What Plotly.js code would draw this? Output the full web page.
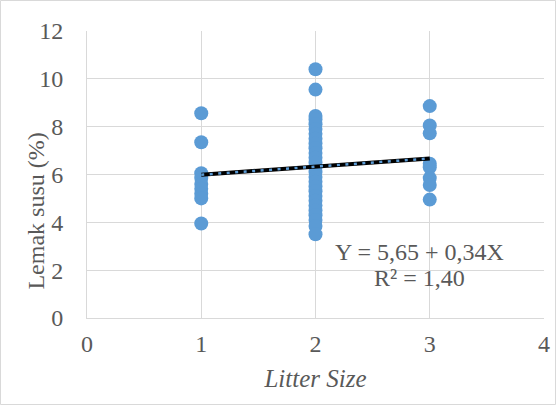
<!DOCTYPE html>
<html>
<head>
<meta charset="utf-8">
<script src="https://cdn.plot.ly/plotly-3.0.1.min.js"></script>
<style>html,body{margin:0;padding:0;background:#fff;}#chart{width:556px;height:406px;}</style>
</head>
<body>
<div id="chart"></div>
<script>
// Litter size 1
const ls1X = [1, 1, 1, 1, 1, 1, 1, 1, 1];
const ls1Y = [8.56, 7.35, 6.05, 5.85, 5.6, 5.4, 5.2, 5.0, 3.95];
// Litter size 2
const ls2X = [2, 2, 2, 2, 2, 2, 2, 2, 2, 2, 2, 2, 2, 2, 2, 2, 2, 2, 2, 2, 2, 2, 2, 2, 2, 2, 2];
const ls2Y = [10.4, 9.55, 8.45, 8.3, 8.1, 7.9, 7.7, 7.5, 7.3, 7.1, 6.9, 6.7, 6.5, 6.3, 6.1, 5.9, 5.7, 5.5, 5.3, 5.1, 4.9, 4.7, 4.5, 4.3, 4.1, 3.85, 3.5];
// Litter size 3
const ls3X = [3, 3, 3, 3, 3, 3, 3, 3];
const ls3Y = [8.86, 8.05, 7.72, 6.45, 6.3, 5.85, 5.56, 4.95];
// Regression line
const trendX = [1, 3];
const trendY = [5.99, 6.67];
const xTicks = [0, 1, 2, 3, 4];
const yTicks = [0, 2, 4, 6, 8, 10, 12];
const eqLine1 = "Y = 5,65 + 0,34X";
const eqLine2 = "R² = 1,40";
const xTitle = "Litter Size";
const yTitle = "Lemak susu (%)";

const allX = ls1X.concat(ls2X, ls3X);
const allY = ls1Y.concat(ls2Y, ls3Y);

const font = "Liberation Serif";
const txt = "#595959";

const traces = [
  {x: allX, y: allY, type: "scatter", mode: "markers",
   marker: {color: "#5b9bd5", size: 14}, hoverinfo: "x+y"},
  {x: trendX, y: trendY, type: "scatter", mode: "lines",
   line: {color: "#000000", width: 4}},
  {x: trendX, y: trendY, type: "scatter", mode: "lines",
   line: {color: "#5b9bd5", width: 2.5, dash: "3px,5.5px"}}
];

const layout = {
  width: 556, height: 406,
  margin: {l: 87, r: 12, t: 31, b: 88},
  paper_bgcolor: "#ffffff", plot_bgcolor: "#ffffff",
  showlegend: false,
  font: {family: font, color: txt, size: 24},
  xaxis: {
    range: [0, 4], tickvals: xTicks, ticktext: xTicks.map(String),
    showgrid: true, gridcolor: "#d9d9d9", gridwidth: 1,
    zeroline: false, showline: true, linecolor: "#d9d9d9", linewidth: 1,
    ticks: "", ticklabelstandoff: 4,
    tickfont: {family: font, size: 24, color: txt},
    title: {text: "<i>" + xTitle + "</i>", font: {family: font, size: 25, color: txt}, standoff: 13}
  },
  yaxis: {
    range: [0, 12], tickvals: yTicks, ticktext: yTicks.map(String),
    showgrid: true, gridcolor: "#d9d9d9", gridwidth: 1,
    zeroline: false, showline: true, linecolor: "#d9d9d9", linewidth: 1,
    ticks: "", ticklabelstandoff: 18,
    tickfont: {family: font, size: 24, color: txt}
  },
  annotations: [
    {x: -51/457, y: 4.45, xref: "paper", yref: "y", text: yTitle, textangle: -90,
     showarrow: false, font: {family: font, size: 24, color: txt},
     xanchor: "center", yanchor: "middle"},
    {x: 2.91, y: 2.78, xref: "x", yref: "y", text: eqLine1, showarrow: false,
     font: {family: font, size: 24, color: txt}, xanchor: "center", yanchor: "middle"},
    {x: 2.91, y: 1.69, xref: "x", yref: "y", text: eqLine2, showarrow: false,
     font: {family: font, size: 24, color: txt}, xanchor: "center", yanchor: "middle"}
  ],
  shapes: [
    {type: "rect", xref: "paper", yref: "paper",
     x0: -86.5/457, x1: 1 + 11.5/457, y0: -86.5/287, y1: 1 + 30.5/287,
     line: {color: "#d9d9d9", width: 1}, fillcolor: "rgba(0,0,0,0)", layer: "below"}
  ]
};

Plotly.newPlot("chart", traces, layout, {displayModeBar: false, staticPlot: true});
</script>
</body>
</html>
